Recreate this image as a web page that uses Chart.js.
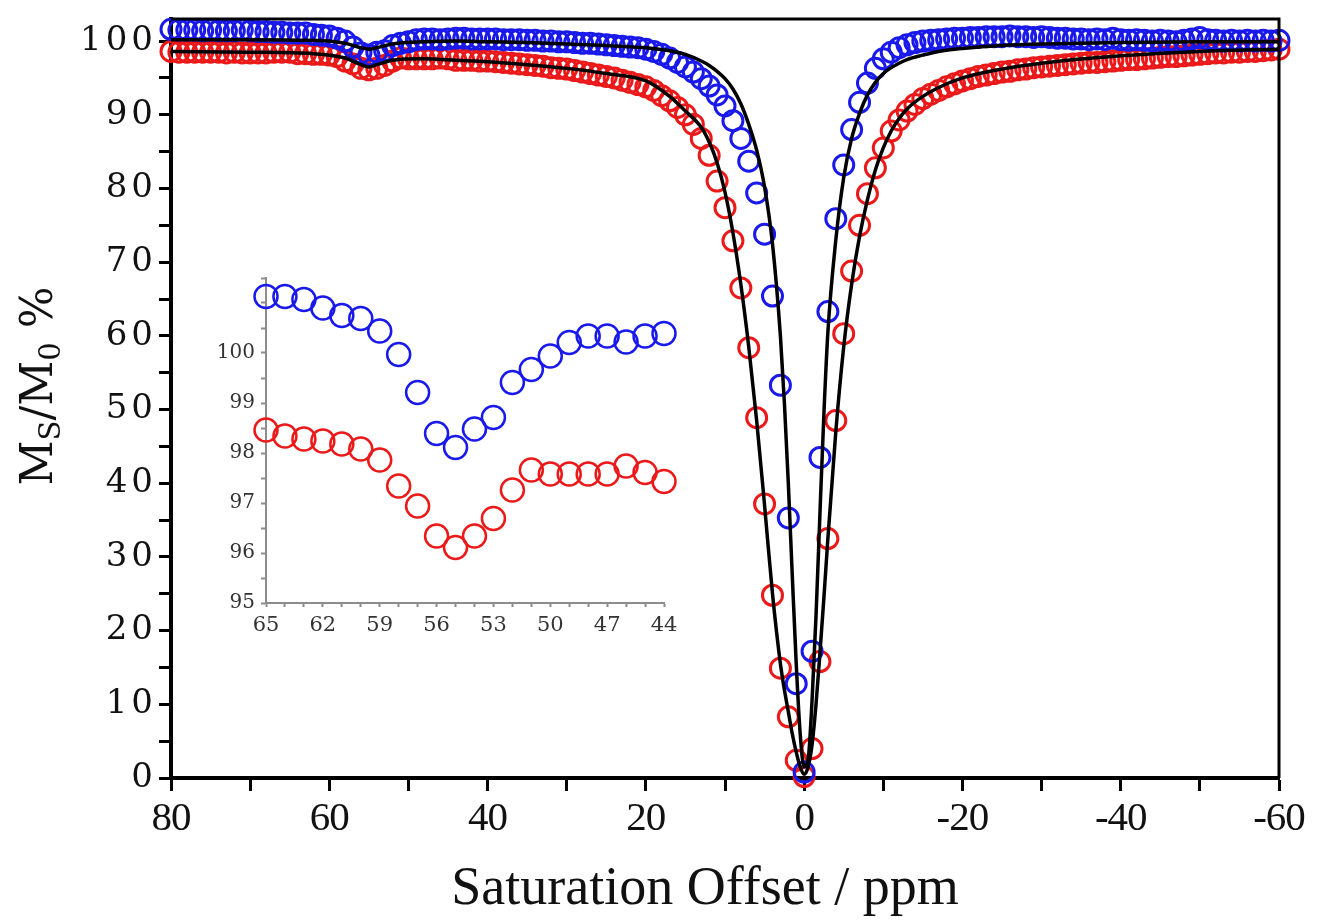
<!DOCTYPE html>
<html>
<head>
<meta charset="utf-8">
<title>Saturation Offset</title>
<script src="https://cdn.jsdelivr.net/npm/chart.js@4.4.1/dist/chart.umd.min.js"></script>
<style>
  body { margin: 0; background: #fff; }
  #wrap { position: relative; width: 1318px; height: 921px; }
  #mainChart { position: absolute; left: 0; top: 0; }
  #insetChart { position: absolute; left: 180px; top: 260px; }
</style>
</head>
<body>
<div id="wrap">
  <canvas id="mainChart" width="1318" height="921"></canvas>
  <canvas id="insetChart" width="520" height="400"></canvas>
</div>
<script>
// Offsets (ppm) of the measured points, 80 down to -60
const offsets = [
    80, 79, 78, 77, 76, 75, 74, 73, 72, 71,
    70, 69, 68, 67, 66, 65, 64, 63, 62, 61,
    60, 59, 58, 57, 56, 55, 54, 53, 52, 51,
    50, 49, 48, 47, 46, 45, 44, 43, 42, 41,
    40, 39, 38, 37, 36, 35, 34, 33, 32, 31,
    30, 29, 28, 27, 26, 25, 24, 23, 22, 21,
    20, 19, 18, 17, 16, 15, 14, 13, 12, 11,
    10, 9, 8, 7, 6, 5, 4, 3, 2, 1,
    0,
    -1, -2, -3, -4, -5, -6, -7, -8, -9, -10,
    -11, -12, -13, -14, -15, -16, -17, -18, -19, -20,
    -21, -22, -23, -24, -25, -26, -27, -28, -29, -30,
    -31, -32, -33, -34, -35, -36, -37, -38, -39, -40,
    -41, -42, -43, -44, -45, -46, -47, -48, -49, -50,
    -51, -52, -53, -54, -55, -56, -57, -58, -59, -60
];

// Ms/M0 % (blue series)
const blueVals = [
    101.6, 101.5, 101.5, 101.5, 101.4, 101.5, 101.4, 101.4, 101.4, 101.5,
    101.4, 101.3, 101.3, 101.2, 101.2, 101.1, 101.1, 101.1, 100.9, 100.8,
    100.7, 100.4, 100.0, 99.2, 98.4, 98.1, 98.5, 98.7, 99.4, 99.7,
    99.9, 100.2, 100.3, 100.3, 100.2, 100.3, 100.4, 100.4, 100.3, 100.3,
    100.3, 100.3, 100.2, 100.2, 100.2, 100.1, 100.1, 100.0, 100.0, 99.9,
    99.9, 99.8, 99.7, 99.7, 99.6, 99.5, 99.4, 99.3, 99.2, 99.1,
    98.9, 98.6, 98.2, 97.7, 97.1, 96.5, 95.8, 94.9, 93.9, 92.7,
    91.2, 89.2, 86.8, 83.7, 79.4, 73.8, 65.4, 53.3, 35.3, 12.8,
    0.8,
    17.2, 43.5, 63.3, 75.9, 83.2, 88.0, 91.7, 94.3, 96.3, 97.6,
    98.5, 99.1, 99.5, 99.8, 100.0, 100.1, 100.2, 100.3, 100.4, 100.4,
    100.5, 100.5, 100.6, 100.6, 100.6, 100.7, 100.6, 100.6, 100.5, 100.6,
    100.5, 100.4, 100.4, 100.3, 100.3, 100.2, 100.3, 100.2, 100.4, 100.2,
    100.1, 100.2, 100.1, 100.0, 100.1, 100.0, 99.9, 100.1, 100.3, 100.5,
    100.2, 100.1, 100.0, 100.1, 100.0, 100.1, 100.0, 100.1, 100.0, 100.1
];

// Ms/M0 % (red series)
const redVals = [
    98.6, 98.5, 98.5, 98.5, 98.5, 98.5, 98.5, 98.4, 98.5, 98.4,
    98.4, 98.4, 98.4, 98.5, 98.5, 98.5, 98.3, 98.3, 98.2, 98.2,
    98.1, 97.9, 97.3, 96.9, 96.3, 96.1, 96.3, 96.7, 97.3, 97.7,
    97.6, 97.6, 97.6, 97.6, 97.7, 97.6, 97.4, 97.4, 97.4, 97.3,
    97.3, 97.2, 97.1, 97.0, 96.9, 96.8, 96.7, 96.6, 96.4, 96.3,
    96.2, 96.0, 95.8, 95.6, 95.4, 95.2, 95.0, 94.7, 94.4, 94.1,
    93.8, 93.3, 92.6, 91.9, 91.0, 90.0, 88.7, 86.8, 84.5, 81.0,
    77.4, 72.9, 66.5, 58.4, 48.9, 37.2, 24.8, 14.9, 8.3, 2.4,
    0.2,
    4.0, 15.8, 32.5, 48.5, 60.3, 68.8, 75.0, 79.3, 82.8, 85.5,
    87.8, 89.3, 90.5, 91.4, 92.2, 92.8, 93.3, 93.8, 94.2, 94.6,
    94.9, 95.2, 95.4, 95.6, 95.8, 95.9, 96.1, 96.2, 96.4, 96.5,
    96.6, 96.7, 96.8, 96.9, 97.0, 97.1, 97.1, 97.2, 97.3, 97.4,
    97.5, 97.5, 97.6, 97.7, 97.8, 97.9, 97.9, 98.0, 98.1, 98.2,
    98.3, 98.4, 98.4, 98.5, 98.5, 98.6, 98.6, 98.7, 98.8, 98.9
];

// Fitted curves (black lines)
const fitOffsets = [
    80, 70, 62, 58, 56, 55, 54, 52, 48, 44,
    40, 35, 30, 25, 20, 17, 15, 13, 12, 11,
    10, 9, 8, 7, 6, 5, 4, 3, 2.5, 2,
    1.5, 1, 0.5, 0, -0.5, -1, -1.5, -2, -2.5, -3,
    -4, -5, -6, -7, -8, -9, -10, -11, -12, -13,
    -15, -17, -20, -25, -30, -40, -50, -60
];
const fitBlue = [
    100.2, 100.2, 100.1, 99.7, 99.1, 98.9, 99.1, 99.6, 99.9, 100.0,
    99.9, 99.8, 99.6, 99.4, 99.1, 98.7, 98.2, 97.3, 96.7, 95.9,
    94.9, 93.5, 91.5, 88.7, 85.2, 80.2, 72.5, 60.0, 51.0, 40.0,
    27.5, 15.5, 6.0, 1.5, 2.5, 10.5, 22.0, 36.0, 49.5, 60.5,
    73.0, 81.5, 86.8, 90.2, 92.7, 94.4, 95.6, 96.4, 97.0, 97.5,
    98.1, 98.6, 99.0, 99.4, 99.6, 99.8, 99.9, 99.9
];
const fitRed = [
    98.6, 98.5, 98.3, 97.7, 96.8, 96.5, 96.8, 97.4, 97.6, 97.4,
    97.2, 96.8, 96.3, 95.6, 94.6, 92.5, 90.5, 88.3, 86.3, 83.5,
    79.5, 74.0, 67.0, 58.5, 48.5, 37.0, 25.0, 15.5, 12.0, 9.0,
    6.0, 3.5, 1.5, 0.5, 1.5, 4.5, 10.0, 17.0, 24.5, 32.5,
    47.0, 58.5, 67.0, 73.5, 78.5, 82.5, 85.5, 87.8, 89.5, 90.8,
    92.5, 93.7, 95.0, 96.2, 97.0, 98.0, 98.6, 98.9
];

// Inset: zoom on the 65-44 ppm region
const insetOffsets = [65, 64, 63, 62, 61, 60, 59, 58, 57, 56, 55, 54, 53, 52, 51, 50, 49, 48, 47, 46, 45, 44];
const insetBlue = [101.13, 101.13, 101.07, 100.9, 100.75, 100.69, 100.44, 99.97, 99.21, 98.39, 98.11,
                   98.48, 98.71, 99.41, 99.67, 99.94, 100.21, 100.34, 100.34, 100.22, 100.34, 100.39];
const insetRed = [98.46, 98.34, 98.28, 98.24, 98.18, 98.08, 97.86, 97.34, 96.94, 96.34, 96.11,
                  96.34, 96.69, 97.26, 97.66, 97.58, 97.58, 97.58, 97.58, 97.74, 97.61, 97.43];

const BLUE = 'rgb(25, 25, 235)';
const RED = 'rgb(235, 25, 25)';

function pontos(xs, ys) {
    return xs.map((x, i) => ({ x: x, y: ys[i] }));
}

// Frame on top/right, axis titles, and letter spacing for the wide y labels
const molduraPlugin = {
    id: 'moldura',
    beforeDraw(chart) {
        chart.ctx.letterSpacing = '4px';
    },
    beforeDatasetsDraw(chart) {
        chart.ctx.letterSpacing = '0px';
    },
    afterDatasetsDraw(chart) {
        chart.ctx.letterSpacing = '-1px';
    },
    afterDraw(chart) {
        const ctx = chart.ctx;
        const a = chart.chartArea;
        ctx.letterSpacing = '0px';
        ctx.save();
        ctx.strokeStyle = '#000';
        ctx.lineWidth = 3;
        ctx.beginPath();
        ctx.moveTo(a.left, a.top);
        ctx.lineTo(a.right, a.top);
        ctx.lineTo(a.right, a.bottom);
        ctx.stroke();

        // x title
        ctx.fillStyle = '#111';
        ctx.font = '54px "Liberation Serif"';
        ctx.textAlign = 'center';
        ctx.textBaseline = 'alphabetic';
        ctx.fillText('Saturation Offset / ppm', 705, 904);

        // y title: Ms/M0 %
        ctx.translate(38, 386);
        ctx.rotate(-Math.PI / 2);
        ctx.textAlign = 'left';
        const big = '44px "DejaVu Serif"';
        const small = '29px "DejaVu Serif"';
        const partes = [['M', big, 0], ['S', small, 8], ['/M', big, 0], ['0', small, 8], [' %', big, 0]];
        let total = 0;
        partes.forEach(p => { ctx.font = p[1]; total += ctx.measureText(p[0]).width; });
        let px = -total / 2;
        partes.forEach(p => {
            ctx.font = p[1];
            ctx.fillText(p[0], px, 14 + p[2]);
            px += ctx.measureText(p[0]).width;
        });
        ctx.restore();
    }
};

new Chart(document.getElementById('mainChart'), {
    type: 'scatter',
    data: {
        datasets: [
            {
                label: 'fit blue',
                data: pontos(fitOffsets, fitBlue),
                showLine: true,
                borderColor: '#000',
                borderWidth: 3.5,
                pointRadius: 0,
                cubicInterpolationMode: 'monotone',
                clip: false,
                order: 0
            },
            {
                label: 'fit red',
                data: pontos(fitOffsets, fitRed),
                showLine: true,
                borderColor: '#000',
                borderWidth: 3.5,
                pointRadius: 0,
                cubicInterpolationMode: 'monotone',
                clip: false,
                order: 0
            },
            {
                label: 'blue',
                data: pontos(offsets, blueVals),
                pointStyle: 'circle',
                pointRadius: 10,
                borderWidth: 3,
                borderColor: BLUE,
                backgroundColor: 'rgba(0,0,0,0)',
                clip: false,
                order: 1
            },
            {
                label: 'red',
                data: pontos(offsets, redVals),
                pointStyle: 'circle',
                pointRadius: 10,
                borderWidth: 3,
                borderColor: RED,
                backgroundColor: 'rgba(0,0,0,0)',
                clip: false,
                order: 2
            }
        ]
    },
    options: {
        responsive: false,
        animation: false,
        devicePixelRatio: 1,
        layout: { padding: { left: 0, top: 18, right: 39, bottom: 0 } },
        plugins: { legend: { display: false }, tooltip: { enabled: false } },
        scales: {
            x: {
                type: 'linear',
                min: -60,
                max: 80,
                reverse: true,
                afterFit(scale) { scale.height = 143; },
                border: { display: true, color: '#000', width: 4 },
                grid: { drawOnChartArea: false, tickLength: 13, tickWidth: 3, tickColor: '#000' },
                ticks: {
                    stepSize: 10,
                    autoSkip: false,
                    maxRotation: 0,
                    padding: 4,
                    z: 1,
                    color: '#111',
                    font: { family: 'Liberation Serif', size: 41 },
                    callback: v => (v % 20 === 0 ? String(v) : '')
                }
            },
            y: {
                type: 'linear',
                min: 0,
                max: 103,
                afterFit(scale) { scale.width = 171; },
                border: { display: true, color: '#000', width: 4 },
                grid: { drawOnChartArea: false, tickLength: 12, tickWidth: 3, tickColor: '#000' },
                ticks: {
                    stepSize: 5,
                    includeBounds: false,
                    autoSkip: false,
                    padding: 2,
                    color: '#111',
                    font: { family: 'DejaVu Serif', size: 34, lineHeight: 1 },
                    callback: v => (v % 10 === 0 ? String(v) : '')
                }
            }
        }
    },
    plugins: [molduraPlugin]
});

// Inset chart
new Chart(document.getElementById('insetChart'), {
    type: 'scatter',
    data: {
        datasets: [
            {
                label: 'blue',
                data: pontos(insetOffsets, insetBlue),
                pointRadius: 11.5,
                borderWidth: 2.5,
                borderColor: BLUE,
                backgroundColor: 'rgba(0,0,0,0)',
                clip: false
            },
            {
                label: 'red',
                data: pontos(insetOffsets, insetRed),
                pointRadius: 11.5,
                borderWidth: 2.5,
                borderColor: RED,
                backgroundColor: 'rgba(0,0,0,0)',
                clip: false
            }
        ]
    },
    options: {
        responsive: false,
        animation: false,
        devicePixelRatio: 1,
        layout: { padding: { left: 0, top: 15, right: 36, bottom: 0 } },
        plugins: { legend: { display: false }, tooltip: { enabled: false } },
        scales: {
            x: {
                type: 'linear',
                min: 44,
                max: 65,
                reverse: true,
                afterFit(scale) { scale.height = 57; },
                border: { display: true, color: '#8c8c8c', width: 2 },
                grid: { drawOnChartArea: false, tickLength: 4, tickWidth: 2, tickColor: '#8c8c8c' },
                ticks: {
                    stepSize: 1,
                    autoSkip: false,
                    maxRotation: 0,
                    padding: 6,
                    color: '#333',
                    font: { family: 'DejaVu Serif', size: 21 },
                    callback: v => ((65 - v) % 3 === 0 ? String(v) : '')
                }
            },
            y: {
                type: 'linear',
                min: 95,
                max: 101.5,
                afterFit(scale) { scale.width = 86; },
                border: { display: true, color: '#8c8c8c', width: 2 },
                grid: { drawOnChartArea: false, tickLength: 5, tickWidth: 2, tickColor: '#8c8c8c' },
                ticks: {
                    stepSize: 0.5,
                    includeBounds: false,
                    autoSkip: false,
                    padding: 6,
                    color: '#333',
                    font: { family: 'DejaVu Serif', size: 20 },
                    callback: v => (Number.isInteger(v) && v <= 100 ? String(v) : '')
                }
            }
        }
    }
});
</script>
</body>
</html>
